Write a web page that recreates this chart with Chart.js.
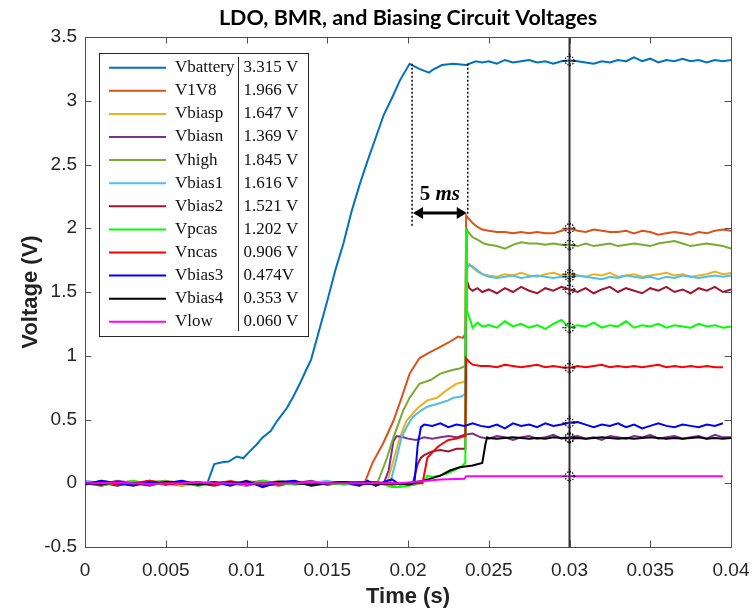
<!DOCTYPE html>
<html><head><meta charset="utf-8">
<script src="https://cdn.jsdelivr.net/npm/chart.js@4.4.0/dist/chart.umd.min.js"></script>
<style>html,body{margin:0;padding:0;background:#fff}</style>
</head><body>
<canvas id="c" width="752" height="614"></canvas>
<script>
// ---------- tick labels ----------
const xTicks = [0,0.005,0.01,0.015,0.02,0.025,0.03,0.035,0.04];
const xTickLabels = ['0','0.005','0.01','0.015','0.02','0.025','0.03','0.035','0.04'];
const yTicks = [-0.5,0,0.5,1,1.5,2,2.5,3,3.5];
const yTickLabels = ['-0.5','0','0.5','1','1.5','2','2.5','3','3.5'];

// ---------- shared time bases ----------
const tBase = [0,0.001,0.002,0.003,0.004,0.005,0.006,0.007,0.008,0.009,0.01,0.011,0.012,0.013,0.014,0.015,0.016,0.017];
const tSteady = [0.025,0.0255,0.026,0.0265,0.027,0.0275,0.028,0.0285,0.029,0.0295,0.03,0.0305,0.031,0.0315,0.032,0.0325,0.033,0.0335,0.034,0.0345,0.035,0.0355,0.036,0.0365,0.037,0.0375,0.038,0.0385,0.039,0.0395,0.04];

// ---------- series names, colours, legend values ----------
const names = ['Vbattery','V1V8','Vbiasp','Vbiasn','Vhigh','Vbias1','Vbias2','Vpcas','Vncas','Vbias3','Vbias4','Vlow'];
const colors = ['#0072BD','#D95319','#EDB120','#7E2F8E','#77AC30','#4DBEEE','#A2142F','#00FF00','#FF0000','#0000FF','#000000','#FF00FF'];
const legendValues = ['3.315 V','1.966 V','1.647 V','1.369 V','1.845 V','1.616 V','1.521 V','1.202 V','0.906 V','0.474V','0.353 V','0.060 V'];
const cursorT = 0.03;

// ---------- Vbattery ----------
const tBat = [0,0.001,0.002,0.003,0.004,0.005,0.006,0.007,0.0076,0.0078,0.008,0.0085,0.0089,0.0094,0.0098,0.0102,0.0106,0.011,0.0115,0.0119,0.0125,0.0129,0.0133,0.0137,0.014,0.0145,0.015,0.0155,0.016,0.0165,0.017,0.0175,0.018,0.0185,0.019,0.0195,0.0201,0.0207,0.0213,0.0215,0.0221,0.0228,0.0236,0.0242,0.0246];
const vBat = [0.01,-0.02,0.01,-0.01,0.02,-0.01,0.01,-0.01,0.01,0.08,0.15,0.165,0.17,0.21,0.196,0.25,0.30,0.36,0.41,0.49,0.59,0.68,0.78,0.89,0.97,1.2,1.43,1.67,1.88,2.13,2.34,2.53,2.71,2.89,3.02,3.16,3.29,3.25,3.22,3.24,3.28,3.29,3.28,3.31,3.30];
const vBatSteady = [3.31,3.29,3.32,3.30,3.31,3.32,3.30,3.31,3.29,3.31,3.315,3.31,3.30,3.29,3.31,3.30,3.32,3.31,3.34,3.31,3.33,3.30,3.32,3.31,3.33,3.31,3.32,3.30,3.32,3.31,3.32];

// ---------- V1V8 ----------
const v1v8Base = [0.0,-0.02,0.01,-0.01,0.02,0.0,-0.02,0.01,-0.01,0.02,-0.01,0.0,-0.02,0.01,0.0,-0.01,0.01,0.0];
const v1v8T = [0.0173,0.0178,0.01845,0.0191,0.0196,0.0201,0.0207,0.0214,0.022,0.0226,0.0231,0.0234,0.02355,0.0236,0.0238,0.024,0.0243,0.0246];
const v1v8V = [0.0,0.16,0.31,0.49,0.67,0.86,0.98,1.03,1.07,1.11,1.15,1.14,1.17,2.10,2.07,2.04,2.01,1.99];
const v1v8Steady = [1.98,1.97,1.97,1.96,1.97,1.96,1.97,1.96,1.96,1.98,2.0,1.98,1.97,1.99,1.98,1.97,1.97,1.98,1.96,1.98,1.97,1.95,1.96,1.97,1.96,1.95,1.97,1.96,1.98,1.99,1.98];

// ---------- Vbiasp ----------
const biaspBase = [-0.01,0.01,0.0,0.02,-0.01,0.01,-0.02,0.0,0.01,-0.01,0.02,0.0,-0.01,0.01,-0.02,0.0,0.01,-0.01];
const biaspT = [0.018,0.0187,0.0191,0.0195,0.0199,0.0206,0.0212,0.0218,0.0224,0.023,0.0233,0.02355,0.0236,0.0238,0.024,0.0243,0.0246];
const biaspV = [0.01,0.0,0.18,0.36,0.49,0.59,0.65,0.67,0.73,0.78,0.79,0.8,1.70,1.72,1.69,1.66,1.64];
const biaspSteady = [1.63,1.62,1.64,1.63,1.65,1.63,1.62,1.64,1.65,1.63,1.64,1.63,1.62,1.64,1.63,1.65,1.62,1.63,1.64,1.62,1.63,1.64,1.65,1.63,1.64,1.62,1.63,1.64,1.66,1.64,1.65];

// ---------- Vbiasn ----------
const biasnBase = [0.01,-0.01,0.02,0.0,-0.02,0.01,0.0,-0.01,0.01,0.0,-0.02,0.01,-0.01,0.0,0.02,-0.01,0.0,0.01];
const biasnT = [0.018,0.0185,0.0188,0.0191,0.0193,0.0197,0.02,0.0205,0.021,0.0215,0.022,0.0225,0.023,0.0235,0.024,0.0245];
const biasnV = [-0.01,0.0,0.1,0.33,0.37,0.36,0.35,0.34,0.36,0.35,0.36,0.37,0.36,0.38,0.39,0.36];
const biasnSteady = [0.35,0.37,0.36,0.34,0.36,0.37,0.35,0.36,0.38,0.35,0.36,0.37,0.35,0.36,0.34,0.37,0.36,0.35,0.37,0.36,0.38,0.35,0.36,0.37,0.35,0.36,0.37,0.35,0.38,0.36,0.36];

// ---------- Vhigh ----------
const highBase = [-0.01,0.02,0.0,-0.01,0.01,0.02,0.0,-0.02,0.01,0.0,0.01,-0.01,0.02,0.0,-0.01,0.01,0.0,-0.02];
const highT = [0.0176,0.0181,0.0187,0.0191,0.0197,0.0201,0.0207,0.0214,0.022,0.0228,0.0232,0.02355,0.0236,0.0238,0.024,0.0243,0.0247];
const highV = [0.01,0.0,0.2,0.36,0.57,0.67,0.78,0.81,0.86,0.89,0.9,0.92,1.99,1.96,1.93,1.91,1.88];
const highSteady = [1.87,1.86,1.84,1.87,1.89,1.88,1.88,1.87,1.88,1.87,1.87,1.86,1.88,1.86,1.87,1.88,1.86,1.87,1.88,1.87,1.86,1.88,1.89,1.9,1.88,1.86,1.87,1.88,1.87,1.86,1.84];

// ---------- Vbias1 ----------
const bias1Base = [0.02,0.0,-0.02,0.01,0.0,-0.01,0.02,-0.01,0.0,0.01,-0.02,0.0,0.01,-0.01,0.0,0.02,-0.01,0.0];
const bias1T = [0.018,0.0189,0.0193,0.0196,0.02,0.0203,0.0208,0.0212,0.022,0.0225,0.0228,0.0233,0.02355,0.0236,0.0238,0.024,0.0243,0.0246];
const bias1V = [-0.01,0.0,0.2,0.36,0.46,0.52,0.57,0.60,0.63,0.65,0.67,0.68,0.70,1.68,1.71,1.70,1.67,1.64];
const bias1Steady = [1.62,1.61,1.62,1.63,1.61,1.62,1.63,1.62,1.61,1.62,1.62,1.63,1.62,1.61,1.60,1.62,1.61,1.63,1.62,1.61,1.62,1.60,1.62,1.61,1.63,1.62,1.61,1.62,1.63,1.62,1.63];

// ---------- Vbias2 ----------
const bias2Base = [0.0,0.01,-0.02,0.01,0.0,-0.01,0.01,0.0,-0.02,0.01,0.0,0.02,-0.01,0.0,0.01,-0.01,0.0,0.01];
const bias2T = [0.018,0.019,0.02,0.0203,0.0206,0.0208,0.021,0.0215,0.022,0.0225,0.023,0.02355,0.0236,0.0237,0.0238,0.024,0.0243,0.0246];
const bias2V = [0.01,-0.01,0.0,0.0,0.15,0.2,0.22,0.25,0.26,0.25,0.27,0.27,1.60,1.57,1.53,1.51,1.53,1.50];
const bias2Steady = [1.52,1.49,1.53,1.50,1.54,1.51,1.49,1.53,1.51,1.54,1.52,1.50,1.53,1.49,1.52,1.54,1.50,1.53,1.51,1.49,1.53,1.51,1.54,1.50,1.52,1.49,1.53,1.51,1.54,1.50,1.52];

// ---------- Vpcas ----------
const pcasBase = [0.01,-0.01,0.0,0.02,-0.01,0.0,0.01,-0.02,0.0,0.01,-0.01,0.02,0.0,-0.01,0.01,0.0,-0.01,0.0];
const pcasT = [0.018,0.0185,0.019,0.0195,0.02,0.0205,0.021,0.0212,0.0215,0.022,0.0225,0.023,0.0233,0.02355,0.0236,0.02365,0.0238,0.024,0.0243,0.0246];
const pcasV = [0.0,-0.01,-0.03,-0.03,-0.02,-0.01,0.02,0.06,0.05,0.06,0.08,0.11,0.13,0.16,2.0,1.35,1.30,1.22,1.26,1.23];
const pcasSteady = [1.24,1.22,1.27,1.23,1.25,1.22,1.24,1.21,1.25,1.28,1.22,1.24,1.23,1.26,1.22,1.24,1.23,1.27,1.22,1.24,1.23,1.25,1.22,1.24,1.23,1.22,1.25,1.23,1.24,1.22,1.23];

// ---------- Vncas ----------
const ncasBase = [0.0,0.01,-0.01,0.0,0.02,-0.01,0.0,0.01,-0.01,0.0,0.01,-0.02,0.0,0.01,-0.01,0.0,0.01,-0.01];
const ncasT = [0.018,0.019,0.02,0.0209,0.0212,0.0215,0.0218,0.022,0.0225,0.023,0.02355,0.0236,0.0238,0.024,0.0245];
const ncasV = [0.0,-0.01,0.0,0.0,0.2,0.24,0.28,0.3,0.34,0.35,0.37,0.98,0.95,0.93,0.92];
const ncasSteady = [0.92,0.91,0.93,0.92,0.91,0.92,0.93,0.91,0.92,0.91,0.905,0.92,0.91,0.92,0.93,0.91,0.92,0.91,0.92,0.91,0.92,0.93,0.91,0.92,0.91,0.92,0.91,0.92,0.91,0.91,null];

// ---------- Vbias3 ----------
const bias3Base = [-0.01,0.02,0.0,-0.02,0.01,0.0,0.02,-0.01,0.01,-0.02,0.02,-0.03,0.01,0.02,-0.02,0.0,0.01,-0.02];
const bias3T = [0.0175,0.018,0.0185,0.019,0.0195,0.02,0.0204,0.0206,0.0208,0.021,0.0215,0.022,0.0225,0.023,0.0235,0.024,0.0245];
const bias3V = [0.02,-0.02,0.01,0.03,-0.01,0.0,0.0,0.3,0.44,0.46,0.45,0.47,0.44,0.46,0.45,0.47,0.45];
const bias3Steady = [0.44,0.46,0.43,0.47,0.45,0.46,0.44,0.47,0.45,0.46,0.474,0.48,0.46,0.44,0.46,0.45,0.47,0.44,0.46,0.43,0.45,0.47,0.45,0.44,0.46,0.45,0.44,0.46,0.45,0.47,null];

// ---------- Vbias4 ----------
const bias4Base = [0.0,-0.01,0.01,0.0,-0.01,0.01,0.0,-0.01,0.0,0.01,-0.01,0.0,0.01,0.0,-0.01,0.0,0.01,0.0];
const bias4T = [0.018,0.019,0.0201,0.0205,0.021,0.0215,0.022,0.0226,0.0232,0.024,0.0246,0.0248,0.0249];
const bias4V = [-0.01,0.0,-0.01,0.01,0.02,0.04,0.06,0.1,0.125,0.14,0.16,0.31,0.36];
const bias4Steady = [0.355,0.35,0.355,0.36,0.355,0.35,0.355,0.35,0.36,0.355,0.353,0.355,0.35,0.355,0.36,0.355,0.35,0.355,0.35,0.355,0.36,0.355,0.35,0.355,0.35,0.355,0.36,0.35,0.355,0.35,0.355];

// ---------- Vlow ----------
const lowBase = [0.0,0.0,0.005,0.0,-0.005,0.0,0.0,0.005,0.0,0.0,-0.005,0.0,0.0,0.0,0.005,0.0,0.0,0.0];
const lowT = [0.0195,0.022,0.0235,0.0236];
const lowV = [0.0,0.03,0.035,0.055];
const lowSteady = [0.055,0.055,0.055,0.055,0.055,0.055,0.055,0.055,0.055,0.055,0.055,0.055,0.055,0.055,0.055,0.055,0.055,0.055,0.055,0.055,0.055,0.055,0.055,0.055,0.055,0.055,0.055,0.055,0.055,0.055,null];

// ---------- assemble points ----------
function pts(ts, vs){ return ts.map((t,i)=>({x:t, y:vs[i]})); }
function series(base, tt, vt, steady){
  return pts(tBase, base).concat(pts(tt, vt), pts(tSteady, steady));
}
const seriesData = [
  pts(tBat, vBat).concat(pts(tSteady, vBatSteady)),
  series(v1v8Base, v1v8T, v1v8V, v1v8Steady),
  series(biaspBase, biaspT, biaspV, biaspSteady),
  series(biasnBase, biasnT, biasnV, biasnSteady),
  series(highBase, highT, highV, highSteady),
  series(bias1Base, bias1T, bias1V, bias1Steady),
  series(bias2Base, bias2T, bias2V, bias2Steady),
  series(pcasBase, pcasT, pcasV, pcasSteady),
  series(ncasBase, ncasT, ncasV, ncasSteady),
  series(bias3Base, bias3T, bias3V, bias3Steady),
  series(bias4Base, bias4T, bias4V, bias4Steady),
  series(lowBase, lowT, lowV, lowSteady)
];

// annotation: 5 ms span
const spanStart = 0.02025, spanEnd = 0.0237;
const spanArrowV = 2.12, spanTopV = 3.29, spanBottomL = 2.02, spanBottomR = 2.10;

const datasets = names.map((n,i)=>({
  label: n, data: seriesData[i], borderColor: colors[i], backgroundColor: colors[i],
  borderWidth: 2, pointRadius: 0, tension: 0, fill: false, spanGaps: false, order: names.length - 1 - i
}));

const BOX = '#4d4d4d';
const overlay = {
  id: 'overlay',
  afterDatasetsDraw(chart){
    const {ctx, chartArea: a, scales: {x, y}} = chart;
    ctx.save();
    ctx.beginPath(); ctx.rect(a.left, a.top, a.right-a.left, a.bottom-a.top); ctx.clip();
    // cursor line
    const cx = x.getPixelForValue(cursorT);
    ctx.strokeStyle = '#333'; ctx.lineWidth = 2;
    ctx.beginPath(); ctx.moveTo(cx, a.top); ctx.lineTo(cx, a.bottom); ctx.stroke();
    // cursor markers
    ctx.strokeStyle = '#000'; ctx.lineWidth = 1.2;
    chart.data.datasets.forEach(ds=>{
      const p = ds.data.find(q=>q.x === cursorT);
      if(!p || p.y == null) return;
      const py = y.getPixelForValue(p.y);
      ctx.setLineDash([1.3,1.3]);
      ctx.beginPath(); ctx.arc(cx, py, 4.5, 0, Math.PI*2); ctx.stroke();
      ctx.beginPath();
      ctx.moveTo(cx-7,py); ctx.lineTo(cx-2,py); ctx.moveTo(cx+2,py); ctx.lineTo(cx+7,py);
      ctx.moveTo(cx,py-7); ctx.lineTo(cx,py-2); ctx.moveTo(cx,py+2); ctx.lineTo(cx,py+7);
      ctx.stroke();
      ctx.setLineDash([]);
    });
    // dotted span lines
    const xs = x.getPixelForValue(spanStart), xe = x.getPixelForValue(spanEnd);
    ctx.setLineDash([2,2]); ctx.lineWidth = 1.5; ctx.strokeStyle = '#000';
    ctx.beginPath();
    ctx.moveTo(xs, y.getPixelForValue(spanTopV)); ctx.lineTo(xs, y.getPixelForValue(spanBottomL));
    ctx.moveTo(xe, y.getPixelForValue(spanTopV)); ctx.lineTo(xe, y.getPixelForValue(spanBottomR));
    ctx.stroke(); ctx.setLineDash([]);
    // double arrow
    const ay = y.getPixelForValue(spanArrowV);
    ctx.lineWidth = 3; ctx.fillStyle = '#000';
    ctx.beginPath(); ctx.moveTo(xs+8, ay); ctx.lineTo(xe-8, ay); ctx.stroke();
    ctx.beginPath(); ctx.moveTo(xs+1, ay); ctx.lineTo(xs+11, ay-6); ctx.lineTo(xs+11, ay+6); ctx.closePath(); ctx.fill();
    ctx.beginPath(); ctx.moveTo(xe-1, ay); ctx.lineTo(xe-11, ay-6); ctx.lineTo(xe-11, ay+6); ctx.closePath(); ctx.fill();
    // 5 ms label
    const midX = (xs+xe)/2, ty = ay - 18;
    ctx.textBaseline = 'middle';
    ctx.font = 'bold 21px "Liberation Serif"';
    const w1 = ctx.measureText('5 ').width;
    ctx.font = 'italic bold 21px "Liberation Serif"';
    const w2 = ctx.measureText('ms').width;
    let sx = midX - (w1+w2)/2;
    ctx.textAlign = 'left';
    ctx.font = 'bold 21px "Liberation Serif"'; ctx.fillText('5 ', sx, ty);
    ctx.font = 'italic bold 21px "Liberation Serif"'; ctx.fillText('ms', sx + w1, ty);
    ctx.restore();
  },
  afterDraw(chart){
    const {ctx, chartArea: a, scales: {x, y}} = chart;
    ctx.save();
    // box
    ctx.strokeStyle = BOX; ctx.lineWidth = 1;
    ctx.strokeRect(Math.round(a.left)+0.5, Math.round(a.top)+0.5, Math.round(a.right-a.left), Math.round(a.bottom-a.top));
    // inward ticks
    const tl = 6.5;
    ctx.beginPath();
    xTicks.forEach(v=>{ const px = Math.round(x.getPixelForValue(v))+0.5;
      ctx.moveTo(px, a.bottom); ctx.lineTo(px, a.bottom-tl); ctx.moveTo(px, a.top); ctx.lineTo(px, a.top+tl); });
    yTicks.forEach(v=>{ const py = Math.round(y.getPixelForValue(v))+0.5;
      ctx.moveTo(a.left, py); ctx.lineTo(a.left+tl, py); ctx.moveTo(a.right, py); ctx.lineTo(a.right-tl, py); });
    ctx.stroke();
    // legend
    const L = {x: a.left+14, y: a.top+16, w: 209, h: 283};
    ctx.fillStyle = '#fff'; ctx.fillRect(L.x, L.y, L.w, L.h);
    ctx.strokeStyle = '#262626'; ctx.lineWidth = 1;
    ctx.strokeRect(L.x+0.5, L.y+0.5, L.w, L.h);
    const sepX = L.x + 139.5;
    ctx.beginPath(); ctx.moveTo(sepX, L.y+4); ctx.lineTo(sepX, L.y+L.h-5); ctx.stroke();
    ctx.font = '17px "Liberation Serif"'; ctx.textBaseline = 'middle'; ctx.textAlign = 'left';
    names.forEach((n,i)=>{
      const ry = L.y + 14.7 + i*23.1;
      ctx.strokeStyle = colors[i]; ctx.lineWidth = 2;
      ctx.beginPath(); ctx.moveTo(L.x+10, ry); ctx.lineTo(L.x+67, ry); ctx.stroke();
      ctx.fillStyle = '#111';
      ctx.fillText(n, L.x+76, ry);
      ctx.fillText(legendValues[i], sepX+5, ry);
    });
    ctx.restore();
  }
};

new Chart(document.getElementById('c'), {
  type: 'line',
  data: { datasets },
  plugins: [overlay],
  options: {
    responsive: false, animation: false, devicePixelRatio: 1,
    layout: { padding: { left: 0, right: 21, top: 0, bottom: 0 } },
    plugins: {
      legend: { display: false }, tooltip: { enabled: false },
      title: { display: true, fullSize: false, text: 'LDO, BMR, and Biasing Circuit Voltages',
        font: { family: 'Lato', size: 21.5, weight: 'bold', lineHeight: 1.1 }, color: '#000', padding: { top: 6, bottom: 7.35 } }
    },
    scales: {
      x: {
        type: 'linear', min: 0, max: 0.04,
        afterBuildTicks: s => { s.ticks = xTicks.map(v=>({value: v})); },
        afterFit: s => { s.height = 67; s.paddingLeft = 0; s.paddingRight = 0; },
        ticks: { callback: (v,i)=>xTickLabels[i], font: { family: 'Liberation Sans', size: 19 }, color: '#262626', padding: 12, maxRotation: 0, autoSkip: false },
        grid: { display: false, drawTicks: false }, border: { display: false },
        title: { display: true, text: 'Time (s)', font: { family: 'Liberation Sans', size: 22, weight: 'bold' }, color: '#222', padding: { top: 0, bottom: 4 } }
      },
      y: {
        type: 'linear', min: -0.5, max: 3.5,
        afterBuildTicks: s => { s.ticks = yTicks.map(v=>({value: v})); },
        afterFit: s => { s.width = 85; s.paddingTop = 0; s.paddingBottom = 0; },
        ticks: { callback: (v,i)=>yTickLabels[i], font: { family: 'Liberation Sans', size: 19 }, color: '#262626', padding: 8, autoSkip: false },
        grid: { display: false, drawTicks: false }, border: { display: false },
        title: { display: true, text: 'Voltage (V)', font: { family: 'Liberation Sans', size: 22, weight: 'bold' }, color: '#222', padding: { top: 18, bottom: 0 } }
      }
    }
  }
});
</script>
</body></html>
